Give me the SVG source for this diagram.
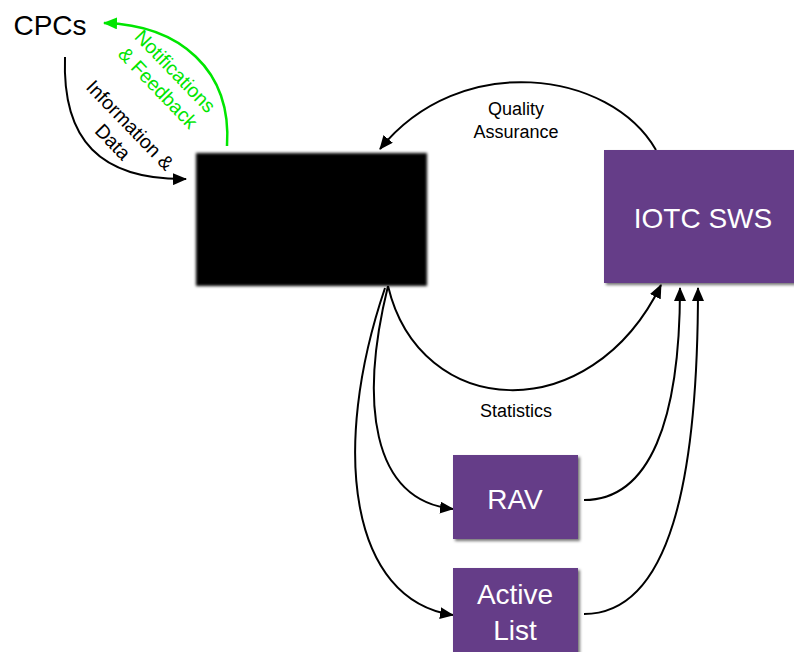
<svg xmlns="http://www.w3.org/2000/svg" width="794" height="652" viewBox="0 0 794 652">
<defs>
<marker id="ah" markerUnits="userSpaceOnUse" markerWidth="16" markerHeight="12" refX="13" refY="6" orient="auto">
<path d="M0,0 L14,6 L0,12 Z" fill="#000"/>
</marker>
<marker id="ahg" markerUnits="userSpaceOnUse" markerWidth="16" markerHeight="12" refX="13" refY="6" orient="auto">
<path d="M0,0 L14,6 L0,12 Z" fill="#00e600"/>
</marker>
<filter id="shadow" x="-10%" y="-10%" width="130%" height="130%">
<feDropShadow dx="2" dy="2" stdDeviation="1.5" flood-color="#000" flood-opacity="0.55"/>
</filter>
<filter id="blur" x="-10%" y="-10%" width="120%" height="120%">
<feGaussianBlur stdDeviation="1.5"/>
</filter>
</defs>
<style>
.lbl{font-family:"Liberation Sans",Arial,sans-serif;font-size:18px;fill:#000;text-anchor:middle}
.rot{font-size:19.5px}
.box{fill:#653c88;filter:url(#shadow)}
.btxt{font-family:"Liberation Sans",Arial,sans-serif;font-size:28px;fill:#fff;text-anchor:middle}
.c{fill:none;stroke:#000;stroke-width:2;marker-end:url(#ah)}
.g{fill:none;stroke:#00e600;stroke-width:2.5;marker-end:url(#ahg)}
</style>
<rect width="794" height="652" fill="#fff"/>

<g id="connectors">
<path class="g" d="M227,146 C232,70 180,25 104,23"/>
<path class="c" d="M65,57 C62,140 100,180 186,179"/>
<path class="c" d="M656,150 C610,70 460,50 380,149"/>
<path class="c" d="M388,286 C420,420 590,430 661,285"/>
<path class="c" d="M388,286 C360,400 370,500 453,509"/>
<path class="c" d="M385,288 C330,450 350,600 453,615"/>
<path class="c" d="M584,500 C650,500 680,420 680,288"/>
<path class="c" d="M584,614 C670,614 698,480 698,288"/>
</g>

<g id="labels">
<text class="lbl" x="516" y="115">Quality</text>
<text class="lbl" x="516" y="138">Assurance</text>
<text class="lbl" x="516" y="417">Statistics</text>
<g transform="translate(166,80) rotate(46)">
<text class="lbl rot" x="0" y="-6" style="fill:#00e600">Notifications</text>
<text class="lbl rot" x="0" y="18" style="fill:#00e600">&amp; Feedback</text>
</g>
<g transform="translate(121,134) rotate(46)">
<text class="lbl rot" x="0" y="-6">Information &amp;</text>
<text class="lbl rot" x="0" y="18">Data</text>
</g>
</g>

<g id="cpcs">
<text x="50" y="35" style="font-family:'Liberation Sans',Arial,sans-serif;font-size:28px;fill:#000;text-anchor:middle">CPCs</text>
</g>

<g id="hidden-box">
<rect x="196" y="153" width="231" height="133" fill="#000" filter="url(#blur)"/>
</g>

<g id="iotc-sws">
<rect class="box" x="604" y="150" width="200" height="133"/>
<text class="btxt" x="703" y="228">IOTC SWS</text>
</g>

<g id="rav">
<rect class="box" x="453" y="455" width="125" height="84"/>
<text class="btxt" x="515" y="509">RAV</text>
</g>

<g id="active-list">
<rect class="box" x="453" y="568" width="125" height="95"/>
<text class="btxt" x="515" y="604">Active</text>
<text class="btxt" x="515" y="640">List</text>
</g>
</svg>
